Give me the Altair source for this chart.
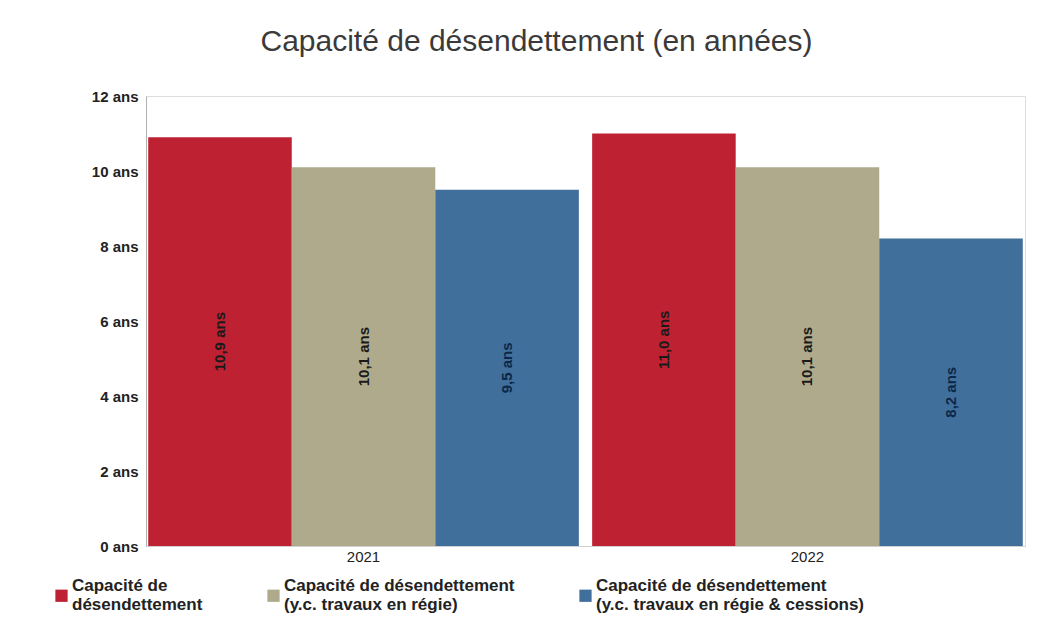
import altair as alt
import pandas as pd

years = ["2021", "2021", "2021", "2022", "2022", "2022"]
series_names = [
    "Capacité de|désendettement",
    "Capacité de désendettement|(y.c. travaux en régie)",
    "Capacité de désendettement|(y.c. travaux en régie & cessions)",
]
series = [series_names[0], series_names[1], series_names[2]] * 2
values = [10.9, 10.1, 9.5, 11.0, 10.1, 8.2]
colors = ["#BE2131", "#AEAA8B", "#416F9B"]
y_ticks = [0, 2, 4, 6, 8, 10, 12]

df = pd.DataFrame({"year": years, "series": series, "value": values})

FONT = "Liberation Sans"

x_enc = alt.X(
    "year:N",
    title=None,
    scale=alt.Scale(paddingInner=0.03, paddingOuter=0.005),
    axis=alt.Axis(labelAngle=0, ticks=False, domain=True, domainColor="#d0d0d0",
                  labelFontSize=15, labelFont=FONT, labelColor="#222", labelPadding=3),
)
xoff = alt.XOffset("series:N", sort=series_names, scale=alt.Scale(paddingInner=0, paddingOuter=0))
color_enc = alt.Color(
    "series:N",
    sort=series_names,
    scale=alt.Scale(domain=series_names, range=colors),
    legend=alt.Legend(
        title=None, orient="none", direction="horizontal", columns=3,
        legendX=-93, legendY=491, columnPadding=62,
        symbolType="square", symbolSize=150, symbolStrokeWidth=0,
        labelExpr="split(datum.label, '|')", labelLimit=400,
        labelFontSize=17, labelFont=FONT, labelColor="#222", labelFontWeight="bold",
        labelBaseline="line-bottom", labelOffset=2,
    ),
)

base = alt.Chart(df)

bars = base.mark_bar().encode(
    x=x_enc,
    xOffset=xoff,
    y=alt.Y(
        "value:Q",
        title=None,
        scale=alt.Scale(domain=[0, 12], nice=False),
        axis=alt.Axis(values=y_ticks, grid=False, ticks=False, domainColor="#b0b0b0",
                      labelExpr="datum.value + ' ans'", labelFontSize=15, labelFont=FONT,
                      labelColor="#222", labelFontWeight="bold", labelPadding=8),
    ),
    color=color_enc,
)

labels = base.transform_calculate(
    mid="datum.value / 2",
    lab="replace(format(datum.value, '.1f'), '.', ',') + ' ans'",
).mark_text(angle=270, fontSize=15, font=FONT, fontWeight="bold", baseline="middle", align="center").encode(
    x=alt.X("year:N"),
    xOffset=xoff,
    y=alt.Y("mid:Q"),
    text="lab:N",
    color=alt.condition(f"datum.series == '{series_names[2]}'", alt.value("#0d2748"), alt.value("#1a1a1a")),
)

chart = alt.layer(bars, labels).properties(
    width=879,
    height=450,
    autosize=alt.AutoSizeParams(type="none"),
    padding={"left": 138, "top": 88, "right": 10, "bottom": 90},
    title=alt.TitleParams(
        "Capacité de désendettement (en années)",
        fontSize=30, font=FONT, fontWeight="normal", color="#3a3a3a",
        anchor="middle", dx=-49, offset=32,
    ),
).configure_view(fill="#eeeeee", stroke=None).configure(background="#ffffff")

chart.save("out.html", embed_options={"renderer": "svg", "actions": False})
